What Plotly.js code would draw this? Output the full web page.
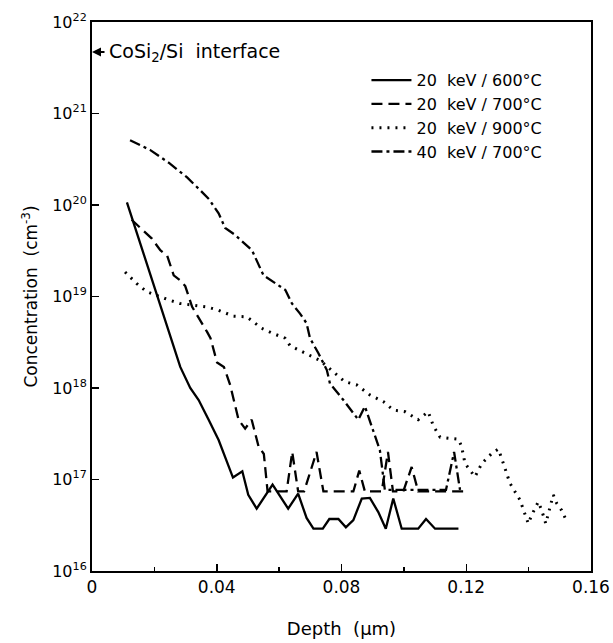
<!DOCTYPE html>
<html>
<head>
<meta charset="utf-8">
<script src="https://cdn.plot.ly/plotly-3.0.1.min.js"></script>
<style>html,body{margin:0;padding:0;background:#fff;}#chart{width:613px;height:643px;}</style>
</head>
<body>
<div id="chart"></div>
<script>
// Depth (µm) and concentration (cm^-3)
const seriesNames = ['20  keV / 600°C', '20  keV / 700°C', '20  keV / 900°C', '40  keV / 700°C'];

const depth600 = [0.0112, 0.0214, 0.0283, 0.0315, 0.0342, 0.0374, 0.0406, 0.0452, 0.0482, 0.0501, 0.0528, 0.0579, 0.0629, 0.0661, 0.0688, 0.071, 0.074, 0.0761, 0.079, 0.0814, 0.0838, 0.0865, 0.0891, 0.0918, 0.0942, 0.0966, 0.0993, 0.1046, 0.1071, 0.11, 0.1175];
const conc600 = [1.07e20, 9.1e18, 1.7e18, 1.0e18, 7.4e17, 4.5e17, 2.7e17, 1.05e17, 1.23e17, 6.8e16, 4.8e16, 8.8e16, 4.8e16, 7.0e16, 3.8e16, 2.9e16, 2.9e16, 3.7e16, 3.7e16, 3.0e16, 3.6e16, 6.2e16, 6.3e16, 4.4e16, 2.9e16, 6.2e16, 2.9e16, 2.9e16, 3.7e16, 2.9e16, 2.9e16];

const depth700 = [0.0127, 0.0155, 0.0192, 0.0219, 0.0241, 0.0262, 0.0283, 0.0299, 0.0321, 0.0369, 0.038, 0.0401, 0.0423, 0.0443, 0.047, 0.0491, 0.0512, 0.0534, 0.0551, 0.0563, 0.0624, 0.0642, 0.0661, 0.068, 0.072, 0.0742, 0.0838, 0.0857, 0.0875, 0.0929, 0.0949, 0.0965, 0.0998, 0.1025, 0.1046, 0.119];
const conc700 = [6.9e19, 5.6e19, 4.3e19, 3.2e19, 2.8e19, 1.7e19, 1.5e19, 1.3e19, 7.7e18, 4.1e18, 3.5e18, 1.9e18, 1.7e18, 1.08e18, 4.5e17, 3.6e17, 4.5e17, 2.3e17, 1.9e17, 7.4e16, 7.4e16, 2.0e17, 7.4e16, 7.4e16, 2.0e17, 7.4e16, 7.4e16, 1.25e17, 7.4e16, 7.4e16, 2.0e17, 7.4e16, 7.4e16, 1.37e17, 7.4e16, 7.4e16];

const depth900 = [0.0106, 0.0143, 0.0175, 0.0213, 0.0245, 0.0282, 0.0325, 0.0368, 0.0405, 0.0453, 0.0496, 0.0544, 0.0576, 0.0619, 0.0635, 0.0681, 0.0731, 0.0779, 0.0811, 0.0849, 0.0891, 0.0934, 0.0966, 0.1004, 0.1046, 0.1078, 0.1094, 0.1116, 0.1148, 0.1175, 0.1185, 0.1196, 0.1228, 0.125, 0.1282, 0.1303, 0.1319, 0.134, 0.1372, 0.1388, 0.1399, 0.141, 0.1431, 0.1442, 0.1455, 0.1466, 0.1479, 0.149, 0.1506, 0.1522];
const conc900 = [1.85e19, 1.39e19, 1.13e19, 1.0e19, 9.2e18, 8.4e18, 8.1e18, 7.7e18, 7.1e18, 6.1e18, 6.0e18, 4.5e18, 4.0e18, 3.5e18, 2.9e18, 2.45e18, 2.0e18, 1.45e18, 1.17e18, 1.08e18, 8.4e17, 7.1e17, 5.75e17, 5.5e17, 4.5e17, 5.5e17, 3.9e17, 2.9e17, 2.8e17, 2.75e17, 2.3e17, 1.5e17, 1.07e17, 1.5e17, 1.93e17, 2.15e17, 1.5e17, 9.1e16, 6.0e16, 4.1e16, 3.3e16, 4.1e16, 5.7e16, 4.6e16, 3.3e16, 4.6e16, 6.8e16, 5.5e16, 4.6e16, 3.5e16];

const depth40 = [0.0122, 0.0186, 0.0246, 0.0305, 0.0346, 0.0375, 0.0406, 0.0427, 0.0459, 0.0494, 0.0513, 0.055, 0.0587, 0.062, 0.0641, 0.0667, 0.0688, 0.0699, 0.0726, 0.0753, 0.0763, 0.0806, 0.0854, 0.0875, 0.0897, 0.0923, 0.0939, 0.1135, 0.1161, 0.118];
const conc40 = [5.1e20, 4.0e20, 2.9e20, 2.0e20, 1.46e20, 1.16e20, 8.1e19, 5.6e19, 4.7e19, 3.7e19, 3.2e19, 1.7e19, 1.4e19, 1.18e19, 8.4e18, 6.5e18, 5.1e18, 3.5e18, 2.4e18, 1.57e18, 1.12e18, 7.4e17, 4.5e17, 6.3e17, 3.8e17, 2.1e17, 7.7e16, 7.7e16, 2.0e17, 7.7e16];

const xTickVals = [0, 0.04, 0.08, 0.12, 0.16];
const xTickText = ['0', '0.04', '0.08', '0.12', '0.16'];
const yTickVals = [1e16, 1e17, 1e18, 1e19, 1e20, 1e21, 1e22];
const yTickText = ['10<sup>16</sup>', '10<sup>17</sup>', '10<sup>18</sup>', '10<sup>19</sup>', '10<sup>20</sup>', '10<sup>21</sup>', '10<sup>22</sup>'];

const FONT = 'DejaVu Sans, sans-serif';
const black = '#000';

const traces = [
  {x: depth600, y: conc600, name: seriesNames[0], mode: 'lines', line: {color: black, width: 2.3}},
  {x: depth700, y: conc700, name: seriesNames[1], mode: 'lines', line: {color: black, width: 2.3, dash: '11px,6px'}},
  {x: depth900, y: conc900, name: seriesNames[2], mode: 'lines', line: {color: black, width: 3, dash: '2px,6px'}},
  {x: depth40, y: conc40, name: seriesNames[3], mode: 'lines', line: {color: black, width: 2.3, dash: '11px,4px,3px,4px'}}
];

const layout = {
  width: 613, height: 643,
  margin: {l: 92, r: 22, t: 22, b: 72},
  paper_bgcolor: '#fff', plot_bgcolor: '#fff',
  font: {family: FONT, color: black, size: 16},
  showlegend: true,
  legend: {x: 0.55, y: 0.925, xanchor: 'left', yanchor: 'top', bgcolor: 'rgba(0,0,0,0)',
           font: {family: FONT, size: 16, color: black}, tracegroupgap: 0, itemwidth: 40},
  xaxis: {
    range: [0, 0.16], tickvals: xTickVals, ticktext: xTickText,
    ticks: 'inside', ticklen: 7, tickwidth: 1.5, tickcolor: black,
    minor: {dtick: 0.02, ticks: 'inside', ticklen: 4, tickcolor: black, tickwidth: 1.5},
    showgrid: false, zeroline: false, showline: true, linecolor: black, linewidth: 2, mirror: true,
    tickfont: {family: FONT, size: 17},
    title: {text: 'Depth  (µm)', font: {family: FONT, size: 18}, standoff: 26}
  },
  yaxis: {
    type: 'log', range: [16, 22], tickvals: yTickVals, ticktext: yTickText,
    ticks: 'inside', ticklen: 7, tickwidth: 1.5, tickcolor: black,
    showgrid: false, zeroline: false, showline: true, linecolor: black, linewidth: 2, mirror: true,
    tickfont: {family: FONT, size: 16},
    title: {text: 'Concentration  (cm<sup>-3</sup>)', font: {family: FONT, size: 17}, standoff: 10}
  },
  annotations: [
    {x: 0, y: 21.672, xref: 'x', yref: 'y', ax: 14, ay: 0, text: '', showarrow: true,
     arrowhead: 2, arrowsize: 1, arrowwidth: 1.8, arrowcolor: black},
    {x: 0.0048, y: 21.672, xref: 'x', yref: 'y', xanchor: 'left', yanchor: 'middle', showarrow: false,
     text: 'CoSi<sub>2</sub>/Si  interface', font: {family: FONT, size: 19, color: black}}
  ]
};

Plotly.newPlot('chart', traces, layout, {staticPlot: true, displayModeBar: false});
</script>
</body>
</html>
